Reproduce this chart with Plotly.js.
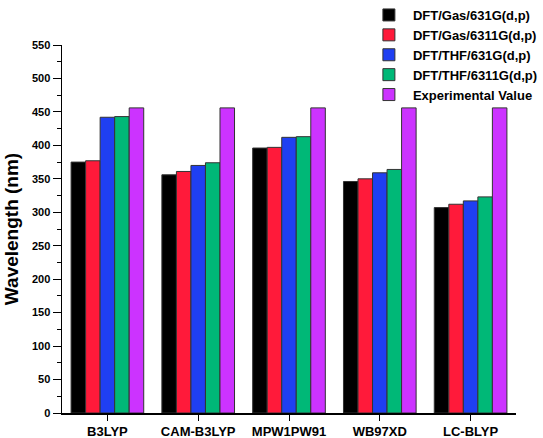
<!DOCTYPE html>
<html>
<head>
<meta charset="utf-8">
<script src="https://cdn.plot.ly/plotly-3.0.1.min.js"></script>
<style>html,body{margin:0;padding:0;background:#fff;}#chart{width:543px;height:438px;}</style>
</head>
<body>
<div id="chart"></div>
<script>
const categories = ["B3LYP", "CAM-B3LYP", "MPW1PW91", "WB97XD", "LC-BLYP"];
const seriesNames = ["DFT/Gas/631G(d,p)", "DFT/Gas/6311G(d,p)", "DFT/THF/631G(d,p)", "DFT/THF/6311G(d,p)", "Experimental Value"];
const gas631 = [375, 356, 396, 346, 307];
const gas6311 = [377, 361, 397, 350, 312];
const thf631 = [442, 370, 412, 359, 317];
const thf6311 = [443, 374, 413, 364, 323];
const experimental = [456, 456, 456, 456, 456];
const colors = ["#000000", "#ff1a3a", "#1f3ff2", "#00b877", "#cc33ff"];

const allValues = [gas631, gas6311, thf631, thf6311, experimental];
const font = {family: "Liberation Sans, Arial, sans-serif", color: "#000", weight: "bold"};

const traces = allValues.map((vals, i) => ({
  type: "bar",
  name: seriesNames[i],
  x: categories,
  y: vals,
  marker: {color: colors[i], line: {color: "#333", width: 1}}
}));

const layout = {
  width: 543, height: 438,
  margin: {l: 62, r: 27, t: 45, b: 25, pad: 0, autoexpand: false},
  paper_bgcolor: "#fff", plot_bgcolor: "#fff",
  barmode: "group", bargap: 0.2, bargroupgap: 0,
  font: Object.assign({size: 12}, font),
  showlegend: true,
  legend: {
    xref: "container", yref: "container",
    x: 0.672, y: 1.005, xanchor: "left", yanchor: "top",
    bgcolor: "rgba(0,0,0,0)", tracegroupgap: 0, itemwidth: 38,
    font: Object.assign({size: 13}, font)
  },
  xaxis: {
    type: "category", range: [-0.5, 4.5],
    showline: true, linecolor: "#000", linewidth: 1.5,
    ticks: "outside", ticklen: 6, tickcolor: "#000",
    showgrid: false, zeroline: false,
    tickfont: Object.assign({size: 13}, font)
  },
  yaxis: {
    range: [0, 550], dtick: 50, tick0: 0,
    showline: true, linecolor: "#000", linewidth: 1.5,
    ticks: "outside", ticklen: 8, tickcolor: "#000",
    minor: {dtick: 25, ticks: "outside", ticklen: 4, tickcolor: "#000", showgrid: false},
    showgrid: false, zeroline: false,
    tickfont: Object.assign({size: 11}, font),
    title: {text: "Wavelength (nm)", font: Object.assign({size: 19}, font), standoff: 8}
  }
};

Plotly.newPlot("chart", traces, layout, {displayModeBar: false, staticPlot: true});
</script>
</body>
</html>
